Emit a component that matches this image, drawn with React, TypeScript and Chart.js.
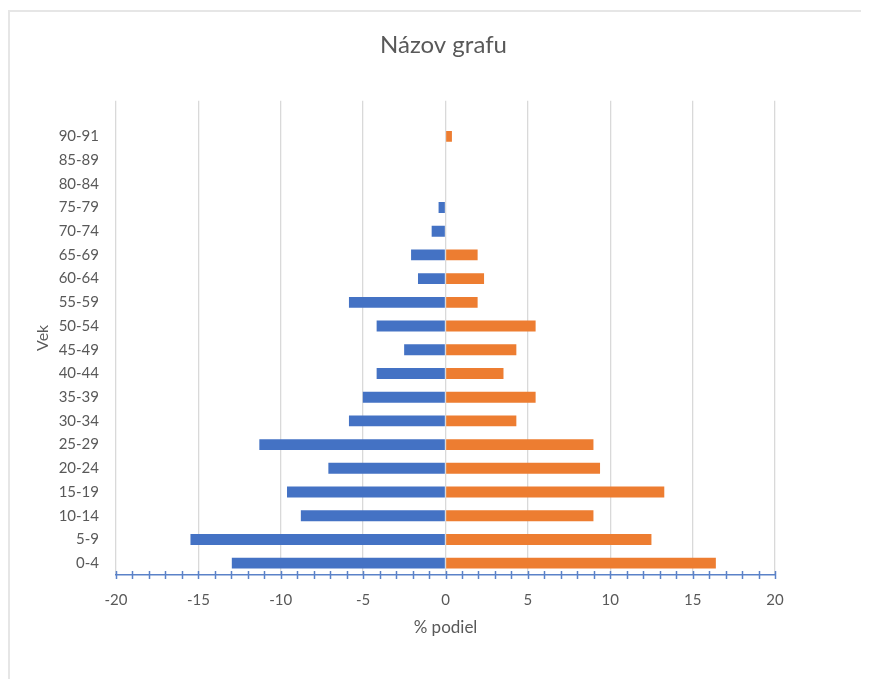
import React, { useEffect, useRef } from "react";
import { Chart, registerables } from "chart.js";

Chart.register(...registerables);

const ageGroups = ["0-4","5-9","10-14","15-19","20-24","25-29","30-34","35-39","40-44","45-49","50-54","55-59","60-64","65-69","70-74","75-79","80-84","85-89","90-91",""];
const blueSeries = [-12.97,-15.48,-8.78,-9.62,-7.11,-11.3,-5.86,-5.02,-4.18,-2.51,-4.18,-5.86,-1.67,-2.09,-0.84,-0.42,0,0,0,null];
const orangeSeries = [16.41,12.5,8.98,13.28,9.38,8.98,4.3,5.47,3.52,4.3,5.47,1.95,2.34,1.95,0,0,0,0,0.39,null];
const xMin = -20;
const xMax = 20;
const chartTitle = "Názov grafu";
const xTitle = "% podiel";
const yTitle = "Vek";

const FONT = "Lato, 'Open Sans', sans-serif";
const TEXT = "#595959";
const AXIS_BLUE = "#5b82c8";

const crossTicks = {
  id: "crossTicks",
  afterDraw(chart: any) {
    const sx = chart.scales.x;
    const yb = chart.chartArea.bottom;
    const ctx = chart.ctx;
    ctx.save();
    ctx.strokeStyle = AXIS_BLUE;
    ctx.lineWidth = 1.5;
    sx.ticks.forEach((t: any) => {
      const px = Math.round(sx.getPixelForValue(t.value)) + 0.5;
      ctx.beginPath();
      ctx.moveTo(px, yb - 4);
      ctx.lineTo(px, yb + 4);
      ctx.stroke();
    });
    ctx.restore();
  },
};

export default function App() {
  const ref = useRef<HTMLCanvasElement>(null);
  useEffect(() => {
    if (!ref.current) return;
    const chart = new Chart(ref.current, {
      type: "bar",
      data: {
        labels: ageGroups,
        datasets: [
          { label: "A", data: blueSeries as any, backgroundColor: "#4472c4", barPercentage: 0.46, categoryPercentage: 1 },
          { label: "B", data: orangeSeries as any, backgroundColor: "#ed7d31", barPercentage: 0.46, categoryPercentage: 1 },
        ],
      },
      options: {
        indexAxis: "y",
        animation: false,
        responsive: false,
        maintainAspectRatio: false,
        layout: { padding: { left: 12, right: 0, top: 0, bottom: 41 } },
        plugins: {
          legend: { display: false },
          tooltip: { enabled: false },
          title: {
            display: true,
            text: chartTitle,
            color: TEXT,
            font: { family: FONT, size: 24, weight: "normal" },
            padding: { top: 19, bottom: 41 },
          },
        },
        scales: {
          x: {
            type: "linear",
            min: xMin,
            max: xMax,
            stacked: true,
            afterFit: (s: any) => { s.height = 63; },
            ticks: {
              stepSize: 1,
              autoSkip: false,
              maxRotation: 0,
              color: TEXT,
              padding: 16,
              font: { family: FONT, size: 15 },
              callback: (v: any) => (Number(v) % 5 === 0 ? String(v) : ""),
            },
            grid: {
              drawTicks: false,
              color: (c: any) => (c.tick && Math.round(c.tick.value) % 5 === 0 ? "#d9d9d9" : "rgba(0,0,0,0)"),
              lineWidth: 1.3,
            },
            border: { display: true, color: AXIS_BLUE, width: 1.5 },
            title: {
              display: true,
              text: xTitle,
              color: TEXT,
              font: { family: FONT, size: 17 },
              padding: 0,
            },
          },
          y: {
            type: "category",
            reverse: true,
            stacked: true,
            afterFit: (s: any) => { s.width = 94; },
            ticks: {
              color: TEXT,
              padding: 17,
              autoSkip: false,
              font: { family: FONT, size: 15 },
            },
            grid: { display: false, drawTicks: false },
            border: { display: false },
            title: {
              display: true,
              text: yTitle,
              color: TEXT,
              font: { family: FONT, size: 16 },
              padding: { top: 11, bottom: 0 },
            },
          },
          y2: {
            type: "linear",
            position: "right",
            display: true,
            afterFit: (s: any) => { s.width = 90; },
            ticks: { display: false },
            grid: { display: false, drawTicks: false },
            border: { display: false },
          },
        },
      },
      plugins: [crossTicks],
    });
    return () => chart.destroy();
  }, []);

  return (
    <div
      style={{
        marginTop: 2,
        width: 855,
        height: 667,
        borderTop: "2px solid #e6e6e6",
        borderLeft: "2px solid #e6e6e6",
        borderRight: "2px solid #e6e6e6",
        background: "#fff",
      }}
    >
      <canvas ref={ref} width={855} height={667} style={{ display: "block" }} />
    </div>
  );
}
